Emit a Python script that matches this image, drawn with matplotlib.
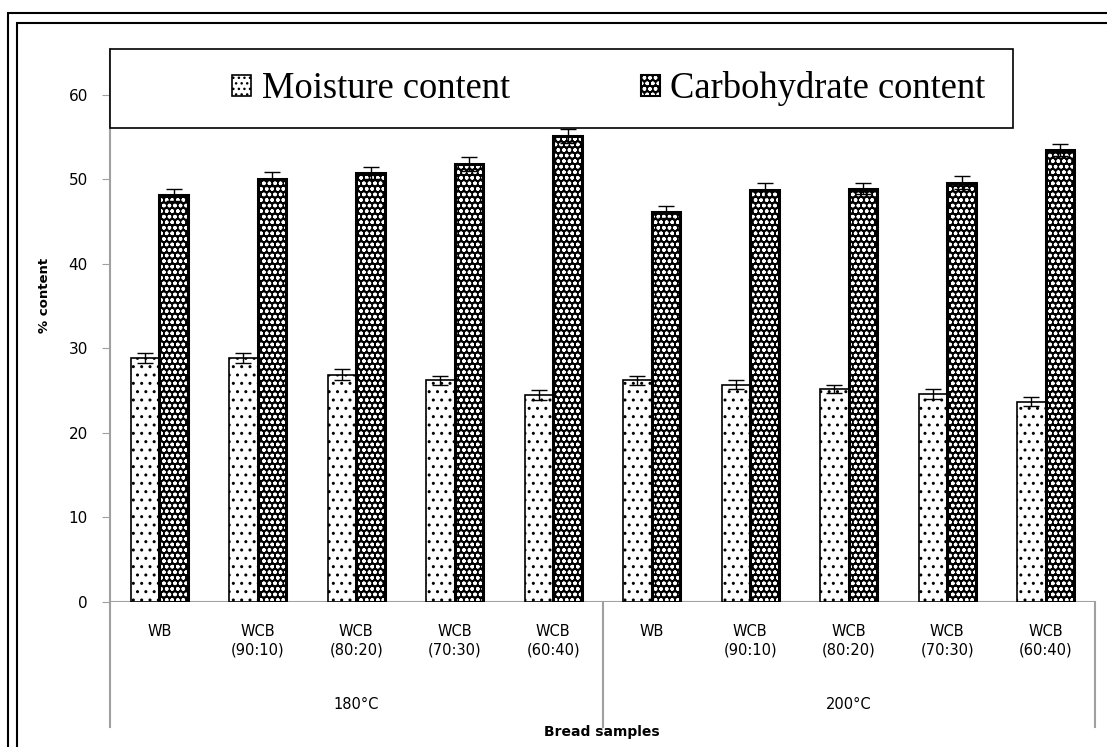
import numpy as np
import matplotlib
matplotlib.use("Agg")
import matplotlib.pyplot as plt
from matplotlib.patches import Patch, Rectangle
from matplotlib.legend_handler import HandlerTuple
from matplotlib.lines import Line2D

# data
groups = ['180°C', '200°C']
samples = ['WB', 'WCB\n(90:10)', 'WCB\n(80:20)', 'WCB\n(70:30)', 'WCB\n(60:40)']
moisture = [28.9, 28.9, 26.9, 26.2, 24.5, 26.2, 25.7, 25.2, 24.6, 23.7]
moisture_err = [0.6, 0.6, 0.6, 0.5, 0.6, 0.5, 0.5, 0.5, 0.6, 0.5]
carbo = [48.1, 50.0, 50.7, 51.8, 55.1, 46.1, 48.7, 48.9, 49.6, 53.5]
carbo_err = [0.7, 0.8, 0.7, 0.8, 0.8, 0.7, 0.8, 0.7, 0.8, 0.7]

plt.rcParams['font.family'] = ['DejaVu Sans']
plt.rcParams['hatch.linewidth'] = 1.0

fig = plt.figure(figsize=(11.07, 7.47), dpi=100)
ax = fig.add_axes([110/1107, 1 - 602/747, 985/1107, 553/747])

x = np.arange(len(moisture))
w = 0.29
ax.bar(x - w/2, moisture, w, facecolor='white', edgecolor='black', hatch='..', linewidth=1.2, zorder=2)
ax.bar(x + w/2, carbo, w, facecolor='black', edgecolor='white', hatch='ooo', linewidth=0, zorder=2)
ax.bar(x + w/2, carbo, w, fill=False, edgecolor='black', linewidth=2.2, zorder=3)
ax.errorbar(x - w/2, moisture, yerr=moisture_err, fmt='none', ecolor='black', elinewidth=1, capsize=6, capthick=1, zorder=4)
ax.errorbar(x + w/2, carbo, yerr=carbo_err, fmt='none', ecolor='black', elinewidth=1, capsize=6, capthick=1, zorder=4)

ax.set_xlim(-0.5, 9.5)
ax.set_ylim(0, 65.4)
ax.set_yticks(range(0, 61, 10))
ax.tick_params(axis='y', labelsize=11, length=6, color='#a0a0a0', pad=10)
ax.set_xticks([])
for s in ['top', 'right', 'bottom']:
    ax.spines[s].set_visible(False)
ax.spines['left'].set_color('#a0a0a0')
ax.spines['left'].set_linewidth(1.5)

# category axis, two levels
ax.axhline(0, color='#a0a0a0', lw=1.5, zorder=1)
trans = ax.get_xaxis_transform()
for xs in [-0.5, 4.5, 9.5]:
    ax.add_artist(Line2D([xs, xs], [0, -0.226], transform=trans, color='#a0a0a0', lw=1.5, clip_on=False))
for i in x:
    ax.text(i, -0.04, samples[i % 5], transform=trans, ha='center', va='top', fontsize=10.5, linespacing=1.3)
for g, name in enumerate(groups):
    ax.text(2 + 5*g, -0.185, name, transform=trans, ha='center', va='center', fontsize=10.5)

fig.text(45/1107, 1 - 295/747, '% content', rotation=90, ha='center', va='center', fontsize=9.5, fontweight='bold')
fig.text(602/1107, 1 - 732/747, 'Bread samples', ha='center', va='center', fontsize=10, fontweight='bold')

# legend box
ax.add_patch(Rectangle((0, 1 - 79/553), 903/985, 79/553, transform=ax.transAxes, fill=False,
                       edgecolor='black', lw=1.2, zorder=5, clip_on=False))
ax.add_patch(Rectangle((0, 1 - 79/553), 903/985, 79/553, transform=ax.transAxes,
                       facecolor='white', edgecolor='none', zorder=4.5, clip_on=False))
h1 = Patch(facecolor='white', edgecolor='black', hatch='...', linewidth=1.2)
h2 = (Patch(facecolor='black', edgecolor='white', hatch='ooo', linewidth=0),
      Patch(fill=False, edgecolor='black', linewidth=1.5))
leg = ax.legend([h1, h2], ['Moisture content', 'Carbohydrate content'], ncol=2, frameon=False,
                loc='center', bbox_to_anchor=(499/985, 1 - 40/553), bbox_transform=ax.transAxes,
                prop={'family': 'Liberation Serif', 'size': 26.3}, handlelength=0.52, handleheight=0.52,
                handletextpad=0.28, columnspacing=3.6, handler_map={tuple: HandlerTuple(ndivide=1, pad=0)})
leg.set_zorder(6)

# double outer frame
fig.add_artist(Rectangle((8/1107, -0.1), 1.2, 1 - 13/747 + 0.1, transform=fig.transFigure, fill=False, edgecolor='black', lw=1.5))
fig.add_artist(Rectangle((17/1107, -0.1), 1.2, 1 - 23/747 + 0.1, transform=fig.transFigure, fill=False, edgecolor='black', lw=1.5))

fig.savefig('out.png', dpi=100)
